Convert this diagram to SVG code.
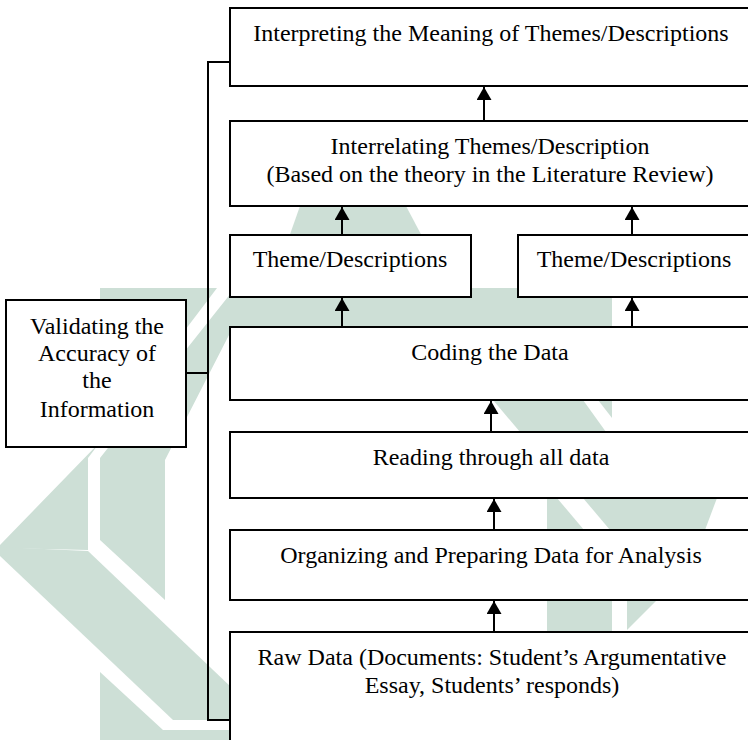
<svg xmlns="http://www.w3.org/2000/svg" width="748" height="740" viewBox="0 0 748 740">
<style>
.box{fill:#ffffff;stroke:#000;stroke-width:2}
.t{font-family:"Liberation Serif","Times New Roman",serif;font-size:24px;fill:#000;text-anchor:middle}
.ln{stroke:#000;stroke-width:2;fill:none}
.wm{fill:#cddfd6}
.wh{fill:#ffffff}
</style>
<defs>
<marker id="ah" markerUnits="userSpaceOnUse" markerWidth="13" markerHeight="15" viewBox="0 0 13 15" refX="13" refY="7.5" orient="auto">
<path d="M0,0 L13,7.5 L0,15 Z" fill="#000"/>
</marker>
</defs>
<rect width="748" height="740" fill="#ffffff"/>
<g id="watermark">
<polygon class="wm" points="300,206 406,206 424,240 288,240"/>
<polygon class="wm" points="100,288 217,288 88,458 88,550 0,548 0,545 100,442"/>
<polygon class="wm" points="235,288 612,288 612,335 229,335 165,460 165,600 100,540 100,458"/>
<polygon class="wm" points="0,547 88,551 232,688 232,720 173,720 0,556"/>
<polygon class="wm" points="100,672 163,730 232,730 232,740 100,740"/>
<polygon class="wm" points="493,400 612,400 612,432 520,432"/>
<polygon class="wh" points="583,400 598,400 612,418 612,432 606,432"/>
<polygon class="wm" points="547,498 717,498 705,530 547,530"/>
<polygon class="wh" points="557,498 583,498 610,530 584,530"/>
<polygon class="wm" points="547,600 612,600 612,632 547,632"/>
<polygon class="wm" points="627,600 657,600 627,630"/>
</g>
<g id="connectors">
<polyline class="ln" points="229,62 208,62 208,720 229,720"/>
<line class="ln" x1="186" y1="373" x2="208" y2="373"/>
<line class="ln" x1="484" y1="121" x2="484" y2="87" marker-end="url(#ah)"/>
<line class="ln" x1="342" y1="235" x2="342" y2="207" marker-end="url(#ah)"/>
<line class="ln" x1="632" y1="235" x2="632" y2="207" marker-end="url(#ah)"/>
<line class="ln" x1="342" y1="327" x2="342" y2="298" marker-end="url(#ah)"/>
<line class="ln" x1="632" y1="327" x2="632" y2="298" marker-end="url(#ah)"/>
<line class="ln" x1="491" y1="432" x2="491" y2="401" marker-end="url(#ah)"/>
<line class="ln" x1="494" y1="530" x2="494" y2="499" marker-end="url(#ah)"/>
<line class="ln" x1="494" y1="632" x2="494" y2="601" marker-end="url(#ah)"/>
</g>
<g id="interpreting">
<rect class="box" x="230" y="8" width="540" height="78"/>
<text class="t" x="491" y="41">Interpreting the Meaning of Themes/Descriptions</text>
</g>
<g id="interrelating">
<rect class="box" x="230" y="121" width="540" height="85"/>
<text class="t" x="490" y="154">Interrelating Themes/Description</text>
<text class="t" x="490" y="182">(Based on the theory in the Literature Review)</text>
</g>
<g id="theme1">
<rect class="box" x="230" y="235" width="241" height="62"/>
<text class="t" x="350" y="267">Theme/Descriptions</text>
</g>
<g id="theme2">
<rect class="box" x="518" y="235" width="260" height="62"/>
<text class="t" x="634" y="267">Theme/Descriptions</text>
</g>
<g id="coding">
<rect class="box" x="230" y="327" width="540" height="73"/>
<text class="t" x="490" y="360">Coding the Data</text>
</g>
<g id="reading">
<rect class="box" x="230" y="432" width="540" height="66"/>
<text class="t" x="491" y="465">Reading through all data</text>
</g>
<g id="organizing">
<rect class="box" x="230" y="530" width="540" height="70"/>
<text class="t" x="491" y="563">Organizing and Preparing Data for Analysis</text>
</g>
<g id="rawdata">
<rect class="box" x="230" y="632" width="540" height="130"/>
<text class="t" x="492" y="665">Raw Data (Documents: Student’s Argumentative</text>
<text class="t" x="492" y="693">Essay, Students’ responds)</text>
</g>
<g id="validating">
<rect class="box" x="6" y="300" width="180" height="147"/>
<text class="t" x="97" y="334">Validating the</text>
<text class="t" x="97" y="361">Accuracy of</text>
<text class="t" x="97" y="388">the</text>
<text class="t" x="97" y="417">Information</text>
</g>
</svg>
